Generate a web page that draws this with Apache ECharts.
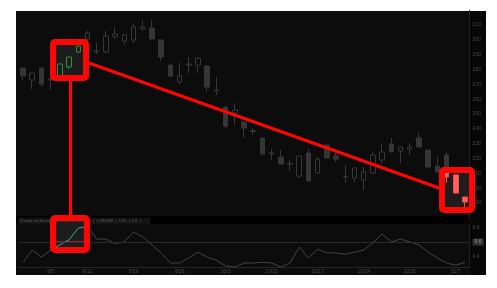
<!DOCTYPE html>
<html><head><meta charset="utf-8">
<script src="https://cdn.jsdelivr.net/npm/echarts@6/dist/echarts.min.js"></script>
<style>
html,body{margin:0;padding:0;background:#fff;}
#wrap{position:relative;width:497px;height:288px;}
#bg{position:absolute;left:16px;top:11px;width:470px;height:264px;background:#0c0c0c;}
#c{position:absolute;left:0;top:0;width:497px;height:288px;}
</style>
</head><body>
<div id="wrap"><div id="bg"></div><div id="c"></div></div>
<script>
// ---- categories (trading days) ----
const dates = ['8/31','9/1','9/2','9/6','9/7','9/8','9/9',
  '9/12','9/13','9/14','9/15','9/16',
  '9/19','9/20','9/21','9/22','9/23',
  '9/26','9/27','9/28','9/29','9/30',
  '10/3','10/4','10/5','10/6','10/7',
  '10/10','10/11','10/12','10/13','10/14',
  '10/17','10/18','10/19','10/20','10/21',
  '10/24','10/25','10/26','10/27','10/28',
  '10/31','11/1','11/2','11/3','11/4',
  '11/7','11/8'];
// ---- week tick labels ----
const weekLabels = ['9/5','9/12','9/19','9/26','10/3','10/10','10/17','10/24','10/31','11/7'];
const weekLabelIdx = [3,7,12,17,22,27,32,37,42,47];

// ---- price candles ----
const opens  = [281.0,272.9,281.0,273.6,275.6,281.7,291.8,300.6,291.8,291.8,301.9,299.2,299.9,307.3,308.0,299.9,283.0,271.6,283.0,283.0,282.4,265.5,254.7,250.7,244.6,238.2,233.8,223.0,221.0,216.3,208.2,223.7,210.2,229.1,221.7,207.5,206.8,205.5,210.2,219.0,229.8,225.0,226.4,233.8,225.7,214.9,222.3,208.9,194.0];
const closes = [275.6,277.6,270.2,272.9,283.7,288.4,295.8,304.6,292.5,302.6,303.9,303.3,308.7,308.7,300.6,288.4,275.6,275.6,283.7,287.7,268.2,266.2,241.9,252.7,240.5,238.9,223.0,223.7,216.3,216.8,221.7,204.8,219.6,220.3,219.6,207.8,213.6,210.9,222.3,224.4,224.4,227.7,227.7,227.7,214.2,210.9,212.2,196.7,190.6];
const lows   = [272.9,266.8,268.2,266.2,275.0,280.3,291.5,299.2,290.4,291.1,300.6,296.5,297.9,306.0,300.2,285.7,275.0,270.2,277.6,277.6,264.8,262.8,240.5,242.6,233.8,235.8,222.5,219.0,216.0,211.5,206.8,204.5,209.8,220.0,217.6,203.5,204.1,198.7,210.0,216.9,224.0,216.9,222.3,227.5,214.0,210.5,210.0,196.5,187.3];
const highs  = [281.7,278.0,281.5,275.0,284.0,288.6,296.0,306.0,297.9,306.0,308.7,303.6,310.7,313.4,313.4,300.5,283.5,284.4,288.4,288.4,282.6,274.9,255.0,257.4,245.0,240.5,234.2,226.4,225.7,219.0,222.0,226.4,221.0,229.5,223.7,215.6,214.0,214.2,224.4,230.4,233.8,228.0,230.4,237.2,226.0,221.0,224.4,209.0,194.2];

// ---- highlighted candles ----
const hlIdx   = [4,5,6,46,47,48];
const hlOpen  = [275.6,281.7,291.8,210.9,208.9,194.0];
const hlClose = [283.7,288.4,295.8,207.5,196.7,190.6];
const hlLow   = [275.0,280.3,291.5,203.5,196.5,187.3];
const hlHigh  = [284.0,288.6,296.0,211.0,209.0,194.2];

// ---- oscillator ----
const osc = [0.32,0.49,0.39,0.49,0.56,0.63,0.79,0.82,0.64,0.64,0.58,0.60,0.74,0.67,0.56,0.45,0.31,0.31,0.38,0.46,0.39,0.35,0.27,0.255,0.31,0.31,0.32,0.31,0.255,0.31,0.53,0.38,0.50,0.45,0.45,0.43,0.46,0.49,0.59,0.71,0.60,0.64,0.60,0.56,0.46,0.38,0.31,0.28,0.32];
const oscHlIdx = [3,4,5,6,7];
const oscLevel = 0.6;
const legendName = 'Champ oscillator(9, 14, 26, 0.5, CLOSE)';
const legendValues = ['0.286388','0.25','0.6'];

const FONT = 'Liberation Sans, DejaVu Sans, sans-serif';
const chart = echarts.init(document.getElementById('c'), null, {renderer:'canvas'});

const baseData = dates.map((d,i)=>[i,opens[i],closes[i],lows[i],highs[i]]);
const hlData = hlIdx.map((k,j)=>[k,hlOpen[j],hlClose[j],hlLow[j],hlHigh[j]]);
const oscHl = dates.map((d,i)=> oscHlIdx.indexOf(i)>=0 ? osc[i] : '-');
const LBL = '#4a4a4a';

chart.setOption({
  animation:false,
  backgroundColor:'transparent',
  textStyle:{fontFamily:FONT},
  grid:[
    {left:18.4, top:10.2, width:451.2, height:207.6},
    {left:18.4, top:224, width:451.2, height:43}
  ],
  xAxis:[
    {type:'category', gridIndex:0, data:dates, boundaryGap:true, show:false,
     axisLine:{show:false, onZero:false}, axisTick:{show:false}, axisLabel:{show:false}, splitLine:{show:false}},
    {type:'category', gridIndex:1, data:dates, boundaryGap:true,
     axisLine:{show:true, onZero:false, lineStyle:{color:'#262626', width:1}}, axisTick:{show:false},
     axisLabel:{interval:0, fontSize:5, color:LBL, margin:2, fontFamily:FONT,
       formatter:(v,i)=>{const k=weekLabelIdx.indexOf(i); return k>=0?weekLabels[k]:'';}},
     splitLine:{show:false}}
  ],
  yAxis:[
    {type:'value', gridIndex:0, position:'right', min:180, max:320, interval:10, z:1,
     axisLine:{show:true, onZero:false, lineStyle:{color:'#202020'}}, axisTick:{show:false}, splitLine:{show:false},
     axisLabel:{fontSize:5, color:LBL, margin:3, showMinLabel:false, showMaxLabel:false, fontFamily:FONT}},
    {type:'value', gridIndex:1, position:'right', min:0.255, max:0.848, z:1,
     axisLine:{show:true, onZero:false, lineStyle:{color:'#202020'}}, axisTick:{show:false}, splitLine:{show:false},
     axisLabel:{fontSize:5, color:LBL, margin:3, showMinLabel:false, showMaxLabel:false, fontFamily:FONT,
       formatter:(v)=>{const r=Math.round(v*10)/10; if(Math.abs(v-r)>1e-6) return '';
         if(Math.abs(r-0.6)<1e-6) return '{hl|0.6}';
         if(Math.abs(r-0.4)<1e-6||Math.abs(r-0.8)<1e-6) return r.toFixed(1); return '';},
       rich:{hl:{backgroundColor:'#333', color:'#999', fontSize:5, padding:[1,2,1,2], fontFamily:FONT}}}}
  ],
  series:[
    {type:'candlestick', name:'price', xAxisIndex:0, yAxisIndex:0, data:baseData,
     encode:{x:0, y:[1,2,3,4]}, barWidth:5, z:2,
     itemStyle:{color:'rgba(0,0,0,0)', color0:'#363636', borderColor:'#383838', borderColor0:'#363636', borderWidth:1}},
    {type:'candlestick', name:'highlight', xAxisIndex:0, yAxisIndex:0, data:hlData,
     encode:{x:0, y:[1,2,3,4]}, barWidth:5, z:4,
     itemStyle:{color:'rgba(0,0,0,0)', color0:'#ff6262', borderColor:'#2f8f3a', borderColor0:'#ff4a4a', borderWidth:1}},
    {type:'line', name:'osc', xAxisIndex:1, yAxisIndex:1, data:osc, symbol:'none', z:2,
     lineStyle:{color:'#444', width:1},
     markLine:{silent:true, symbol:['none','none'], label:{show:false},
       lineStyle:{color:'#2a2a2a', type:'solid', width:1}, data:[{yAxis:oscLevel}]}},
    {type:'line', name:'oscHl', xAxisIndex:1, yAxisIndex:1, data:oscHl, symbol:'none', z:4,
     lineStyle:{color:'#35a9a9', width:1}}
  ]
});

// data -> pixel through the axes (fractional category positions interpolated between index 0 and 48)
const c0 = chart.convertToPixel({xAxisIndex:0}, 0);
const c48 = chart.convertToPixel({xAxisIndex:0}, 48);
const px = v=> c0 + v*(c48-c0)/48;
const py = v=>chart.convertToPixel({yAxisIndex:0}, v);
const py2 = v=>chart.convertToPixel({yAxisIndex:1}, v);
function rectOf(x0,y0,x1,y1){return {x:Math.min(x0,x1), y:Math.min(y0,y1), width:Math.abs(x1-x0), height:Math.abs(y1-y0), r:2};}

const boxMain = rectOf(px(3.26), py(298.5), px(6.84), py(274.3));
const boxRight = rectOf(px(45.5), py(212.2), px(48.76), py(185.3));
const boxLow = rectOf(px(3.26), py2(0.931), px(6.94), py2(0.49));
const RED = '#ff0606';
const gx = px(-0.5), gxr = px(48.5);
const bandTop = py(181.4);
const lowTop = py2(0.848);

const g = [];
g.push({type:'rect', z:0, silent:true, shape:{x:gxr+0.5, y:11, width:486-gxr-0.5, height:264}, style:{fill:'#070707'}});
g.push({type:'rect', z:1, silent:true, shape:{x:16, y:bandTop, width:gxr-16, height:lowTop-bandTop}, style:{fill:'#000'}});
g.push({type:'rect', z:1, silent:true, shape:{x:gx, y:bandTop+2, width:132, height:lowTop-bandTop-2}, style:{fill:'#141414'}});
g.push({type:'text', z:4, silent:true, style:{x:gx+1, y:(bandTop+lowTop)/2+1, text:legendName+'  |  '+legendValues.join('  |  ')+'  |',
  fill:'#5e5e5e', font:'4px '+FONT, verticalAlign:'middle'}});
[boxMain, boxRight, boxLow].forEach(b=>g.push({type:'rect', z:3, silent:true, shape:b, style:{fill:'#1d1d1d'}}));
g.push({type:'line', z:4, silent:true, shape:{x1:px(3.6), y1:py2(oscLevel), x2:px(6.7), y2:py2(oscLevel)}, style:{stroke:'#ff2a2a', lineWidth:1}});
[boxMain, boxRight, boxLow].forEach(b=>g.push({type:'rect', z:6, silent:true, shape:b, style:{fill:null, stroke:RED, lineWidth:6}}));
g.push({type:'line', z:5, silent:true, shape:{x1:px(5.16), y1:py(272.2), x2:px(5.16), y2:py2(0.972)}, style:{stroke:RED, lineWidth:3}});
g.push({type:'line', z:5, silent:true, shape:{x1:px(7.17), y1:py(284.4), x2:px(45.18), y2:py(200.1)}, style:{stroke:RED, lineWidth:3}});

chart.setOption({graphic:g});
</script>
</body></html>
